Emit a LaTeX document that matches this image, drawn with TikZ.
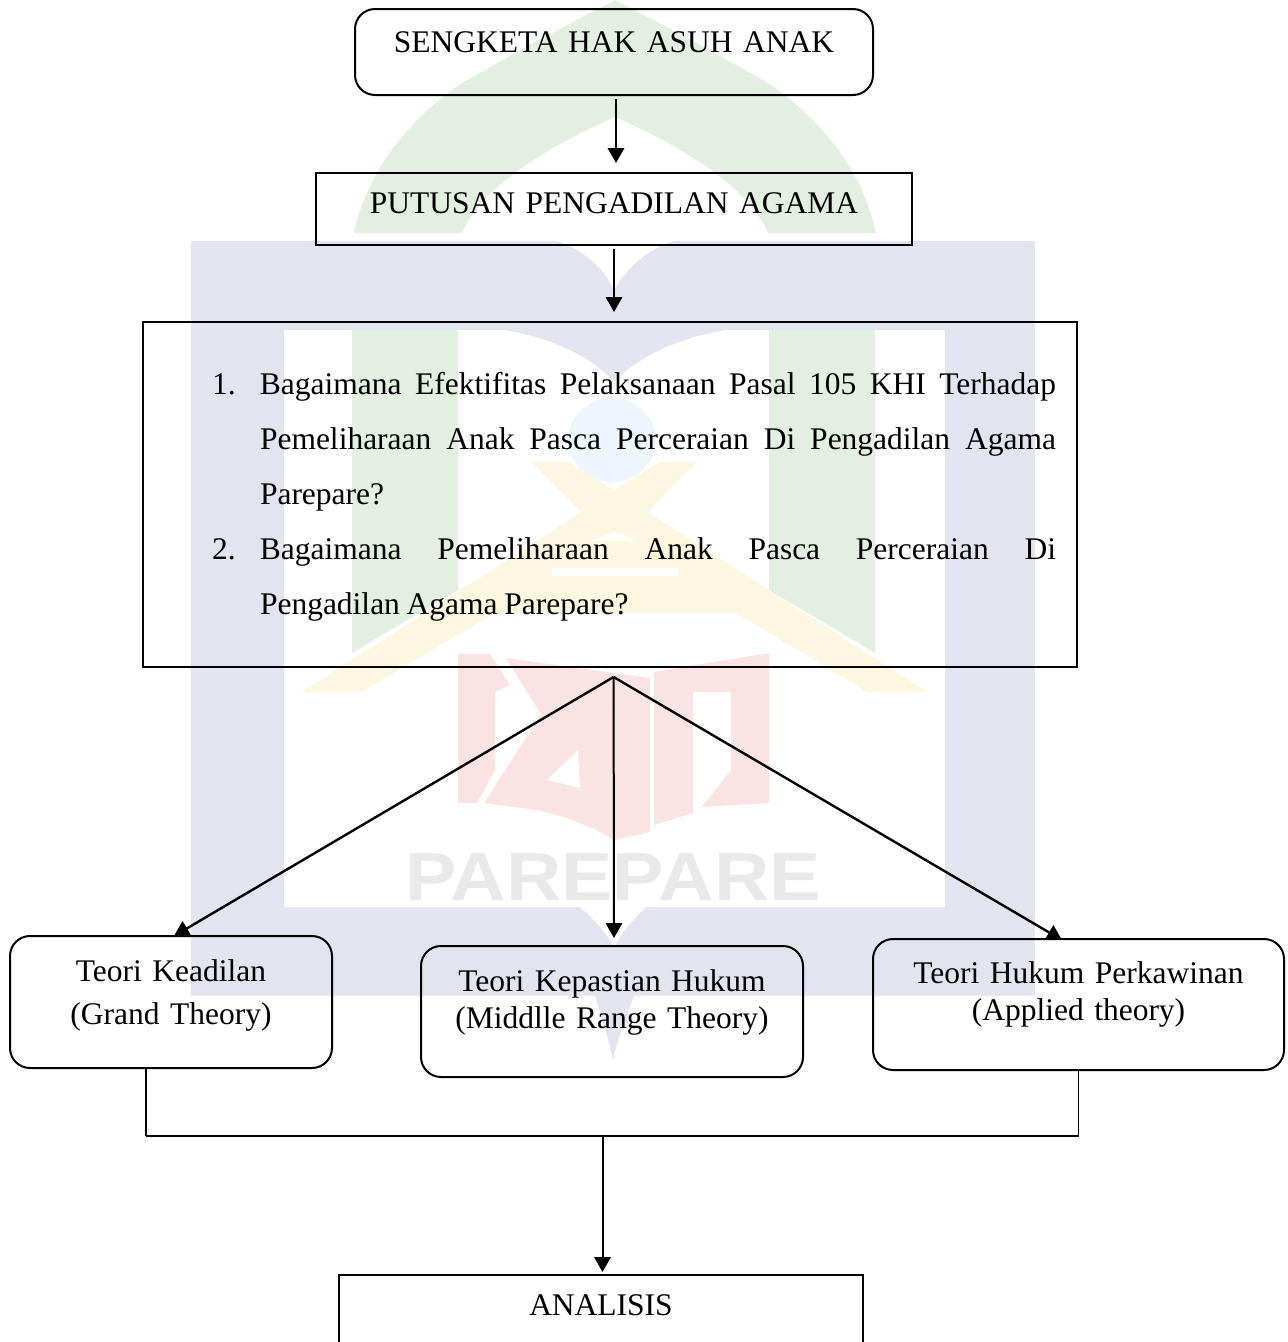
\documentclass[tikz,border=0pt]{standalone}
\usepackage{fontspec}
\setmainfont[WordSpace=0.85]{Liberation Serif}
\usetikzlibrary{arrows.meta}
\definecolor{wmblue}{HTML}{E3E4F0}
\definecolor{wmgreen}{HTML}{E3EFE1}
\definecolor{wmyellow}{HTML}{FBF7E0}
\definecolor{wmred}{HTML}{FBE3E3}
\definecolor{wmgrey}{HTML}{E9E9E9}
\definecolor{wmsky}{HTML}{EDF7FB}
\newfontfamily\wmfont{Liberation Sans}
\tikzset{
  plainbox/.style n args={3}{draw,line width=2pt,anchor=north west,inner sep=0pt,outer sep=0pt,
    align=center,text width=#1,text height=#2,text depth=#3},
  roundbox/.style n args={3}{plainbox={#1}{#2}{#3},rounded corners=20pt},
  arrowline/.style={line width=2pt,-{Triangle[length=15pt,width=16.5pt]}},
  fanline/.style={arrowline,line width=2.4pt}
}
\begin{document}
\begin{tikzpicture}[x=1pt,y=-1pt,font=\fontsize{31.5}{37}\selectfont]
  \useasboundingbox (0,0) rectangle (1288,1342);
  % Draw watermark
  \fill[wmblue] (191,241) rectangle (1035,995);
  \draw[wmred,line width=1pt] (191,995.5) -- (1035,995.5);
  \fill[wmblue] (595,995) .. controls (602,1020) and (609,1040) .. (613,1060)
        .. controls (617,1040) and (626,1020) .. (634,995) -- cycle;
  \fill[white] (284,330) rectangle (945,907);
  \fill[white] (580,907) .. controls (595,920) and (608,935) .. (614,947)
        .. controls (620,935) and (632,920) .. (646,907) -- cycle;
  \fill[white] (557,241) .. controls (585,250) and (605,270) .. (614,290)
        .. controls (625,270) and (645,250) .. (674,241) -- cycle;
  \fill[wmblue] (505,330) .. controls (560,340) and (595,360) .. (614,382)
        .. controls (635,360) and (670,340) .. (724,330) -- cycle;
  % Draw dome and columns
  \fill[wmgreen] (354,233) .. controls (365,180) and (400,125) .. (462,83)
        -- (533,43) -- (615,0) -- (697,43) -- (768,83)
        .. controls (830,125) and (865,180) .. (876,233)
        -- (768,233) .. controls (750,190) and (690,150) .. (615,117)
        .. controls (540,150) and (480,190) .. (462,233) -- cycle;
  \fill[wmgreen] (352,330) -- (458,330) -- (458,590) -- (352,653) -- cycle;
  \fill[wmgreen] (769,330) -- (875,330) -- (875,653) -- (769,590) -- cycle;
  \fill[wmsky] (612,440) ellipse (44pt and 42pt);
  \fill[wmyellow] (532,462) -- (582,512) -- (302,692) -- (361,692) -- (495,613)
        -- (736,613) -- (868,692) -- (927,692) -- (648,512) -- (696,462)
        -- (660,462) -- (614,490) -- (568,462) -- cycle;
  \fill[white] (614,532) -- (592,541) -- (636,541) -- cycle;
  \fill[white] (552,568) rectangle (678,576);
  % Draw book
  \fill[wmred] (458,654) -- (490,654) -- (510,685) -- (495,692) -- (495,770)
        -- (477,803) -- (458,803) -- cycle;
  \fill[wmred] (506,658) -- (650,678) -- (650,832) -- (614,840)
        .. controls (590,825) and (560,815) .. (537,810) -- (484,803)
        -- (542,713) -- (544,695) -- (575,703) -- (540,713) -- cycle;
  \fill[white] (578,750) -- (547,780) -- (580,788) -- cycle;
  \fill[wmred] (654,672) -- (769,653) -- (769,803) -- (702,807) -- (731,770)
        -- (731,692) -- (693,692) -- (693,813) -- (654,825) -- cycle;
  \node[anchor=base,text=wmgrey,inner sep=0pt,xscale=1.13,font=\wmfont\bfseries\fontsize{68}{68}\selectfont]
        (wmtext) at (613,900) {PAREPARE};
  % Draw boxes
  \node[roundbox={518pt}{43pt}{43pt}] (sengketa) at (355,9) {SENGKETA HAK ASUH ANAK};
  \node[plainbox={596pt}{40pt}{32pt}] (putusan) at (316,173) {PUTUSAN PENGADILAN AGAMA};
  \node[plainbox={934pt}{72pt}{273pt},align=none] (rumusan) at (143,322)
        {\fontsize{31.5}{55}\selectfont\leftskip=69pt\rightskip=21pt
         \hangindent=48pt\hangafter=1
         \makebox[48pt][l]{1.}Bagaimana Efektifitas Pelaksanaan Pasal 105 KHI Terhadap\linebreak
         Pemeliharaan Anak Pasca Perceraian Di Pengadilan Agama\linebreak
         Parepare?\par
         \hangindent=48pt\hangafter=1
         \makebox[48pt][l]{2.}Bagaimana Pemeliharaan Anak Pasca Perceraian Di\linebreak
         Pengadilan Agama Parepare?\par};
  \node[roundbox={322pt}{45pt}{87pt}] (keadilan) at (10,936)
        {Teori Keadilan\\[6pt](Grand Theory)};
  \node[roundbox={382pt}{45pt}{86pt}] (kepastian) at (421,946)
        {Teori Kepastian Hukum\\(Middlle Range Theory)};
  \node[roundbox={411pt}{44pt}{87pt}] (perkawinan) at (873,939)
        {Teori Hukum Perkawinan\\(Applied theory)};
  \node[plainbox={524pt}{40pt}{100pt}] (analisis) at (339,1275) {ANALISIS};
  % Draw arrows
  \draw[arrowline,shorten <=4pt,shorten >=10pt] ([xshift=2pt]sengketa.south) -- ([xshift=2pt]putusan.north);
  \draw[arrowline,shorten <=4pt,shorten >=10pt] (putusan.south) -- ([xshift=4pt]rumusan.north);
  \coordinate (fan) at (613.6,677);
  \draw[fanline] (fan) -- ([xshift=3pt]keadilan.north);
  \draw[arrowline,shorten >=8pt] (fan) -- ([xshift=2pt]kepastian.north);
  \draw[fanline] (fan) -- ([xshift=-16.5pt,yshift=-1pt]perkawinan.north);
  % Draw bracket
  \coordinate (join) at (602.5,1136);
  \draw[line width=1.6pt] ([xshift=-25pt]keadilan.south) -- ([xshift=-25pt]keadilan.south |- join);
  \draw[line width=1.6pt] (perkawinan.south) -- (perkawinan.south |- join);
  \draw[line width=2.4pt] ([xshift=-25pt]keadilan.south |- join) -- (perkawinan.south |- join);
  \draw[arrowline,shorten >=3pt] (join) -- ([xshift=1.5pt]analisis.north);
\end{tikzpicture}
\end{document}
